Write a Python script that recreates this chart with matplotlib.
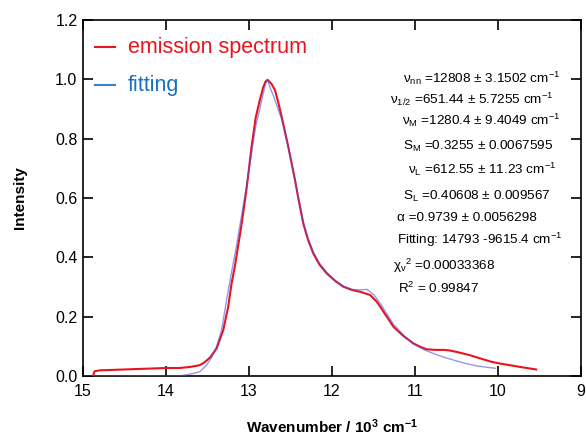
import matplotlib
matplotlib.use("Agg")
import matplotlib.pyplot as plt

plt.rcParams['font.family'] = ['Liberation Sans', 'DejaVu Sans']
plt.rcParams['mathtext.fontset'] = 'custom'
plt.rcParams['mathtext.rm'] = 'Liberation Sans'
plt.rcParams['mathtext.it'] = 'Liberation Sans:italic'
plt.rcParams['mathtext.bf'] = 'Liberation Sans:bold'
plt.rcParams['mathtext.default'] = 'regular'

# emission spectrum (x in 10^3 cm^-1)
red_x = [14.88, 14.86, 14.8, 14.6, 14.4, 14.2, 14.0, 13.83, 13.7, 13.6, 13.55, 13.47,
         13.39, 13.31, 13.25, 13.21, 13.17, 13.09, 13.03, 12.97, 12.92, 12.87, 12.83,
         12.8, 12.775, 12.73, 12.687, 12.65, 12.606, 12.527, 12.446, 12.406, 12.346,
         12.29, 12.225, 12.15, 12.064, 11.96, 11.864, 11.76, 11.663, 11.54, 11.46,
         11.42, 11.34, 11.26, 11.14, 11.02, 10.94, 10.86, 10.75, 10.65, 10.578, 10.45,
         10.337, 10.2, 10.08, 9.976, 9.85, 9.7, 9.54]
red_y = [0.0, 0.016, 0.019, 0.021, 0.023, 0.025, 0.027, 0.027, 0.031, 0.036, 0.043, 0.062,
         0.093, 0.155, 0.234, 0.312, 0.37, 0.51, 0.63, 0.77, 0.87, 0.93, 0.972,
         0.993, 0.998, 0.985, 0.964, 0.925, 0.874, 0.773, 0.661, 0.599, 0.514,
         0.46, 0.413, 0.375, 0.346, 0.32, 0.301, 0.29, 0.284, 0.273, 0.25,
         0.234, 0.2, 0.166, 0.135, 0.11, 0.099, 0.09, 0.088, 0.088, 0.086, 0.078,
         0.07, 0.058, 0.048, 0.042, 0.036, 0.029, 0.022]

# fitting
blue_x = [15.0, 13.85, 13.75, 13.65, 13.59, 13.51, 13.45, 13.39, 13.33, 13.27, 13.21,
          13.15, 13.09, 13.03, 12.97, 12.92, 12.87, 12.83, 12.8, 12.78, 12.75, 12.7,
          12.65, 12.606, 12.527, 12.446, 12.406, 12.346, 12.29, 12.225, 12.15, 12.064,
          11.96, 11.864, 11.76, 11.663, 11.58, 11.5, 11.42, 11.34, 11.26, 11.14, 11.02,
          10.9, 10.78, 10.66, 10.54, 10.4, 10.257, 10.12, 10.03]
blue_y = [0.0, 0.0, 0.004, 0.01, 0.015, 0.037, 0.062, 0.1, 0.155, 0.256, 0.35,
          0.44, 0.54, 0.64, 0.75, 0.84, 0.9, 0.95, 0.985, 1.0, 0.975, 0.94,
          0.9, 0.865, 0.773, 0.661, 0.605, 0.52, 0.465, 0.418, 0.38, 0.35,
          0.322, 0.303, 0.292, 0.29, 0.292, 0.275, 0.245, 0.21, 0.175, 0.138, 0.108,
          0.09, 0.076, 0.064, 0.054, 0.043, 0.034, 0.029, 0.026]

x_ticks = [15, 14, 13, 12, 11, 10, 9]
y_ticks = [0.0, 0.2, 0.4, 0.6, 0.8, 1.0, 1.2]

fit_lines = [
    'ν$_{nn}$ =12808 ± 3.1502 cm$^{-1}$',
    'ν$_{1/2}$ =651.44 ± 5.7255 cm$^{-1}$',
    'ν$_{M}$ =1280.4 ± 9.4049 cm$^{-1}$',
    'S$_{M}$ =0.3255 ± 0.0067595',
    'ν$_{L}$ =612.55 ± 11.23 cm$^{-1}$',
    'S$_{L}$ =0.40608 ± 0.009567',
    'α =0.9739 ± 0.0056298',
    'Fitting: 14793 -9615.4 cm$^{-1}$',
    'χ$_{v}$$^{2}$ =0.00033368',
    'R$^{2}$ = 0.99847',
]
fit_x_px = [403, 390, 402, 403, 408, 403, 397, 397, 393, 398]
fit_y_px = [78, 99, 120, 146, 169, 196, 218, 240, 266, 288]

W, H = 586, 438
fig = plt.figure(figsize=(W / 100, H / 100), dpi=100)
L, R, T, B = 83, 581, 20, 376
ax = fig.add_axes([L / W, 1 - B / H, (R - L) / W, (B - T) / H])

red_c = '#e8141e'
ax.plot(red_x, red_y, color=red_c, lw=1.5, zorder=3)
ax.plot(blue_x, blue_y, color='#5050e0', lw=1.0, alpha=0.6, zorder=4)

ax.set_xlim(15, 9)
ax.set_ylim(0, 1.2)
ax.set_xticks(x_ticks)
ax.set_xticklabels([str(v) for v in x_ticks])
ax.set_yticks(y_ticks)
ax.set_yticklabels(['%.1f' % v for v in y_ticks])
ax.tick_params(direction='in', length=7, width=1.2, top=True, right=True,
               labelsize=11.5, pad=6)
ax.tick_params(axis='y', pad=4)
for s in ax.spines.values():
    s.set_linewidth(1.2)

ax.set_xlabel('Wavenumber / 10$^{3}$ cm$^{-1}$', fontsize=11, fontweight='bold')
ax.xaxis.set_label_coords(0.5, (B - 417) / (B - T), transform=ax.transAxes)
ax.set_ylabel('Intensity', fontsize=11, fontweight='bold')
ax.yaxis.set_label_coords((27 - L) / (R - L), 0.5, transform=ax.transAxes)

def px2ax(px, py):
    return (px - L) / (R - L), (B - py) / (B - T)

# legend
x0, y0 = px2ax(95, 47)
x1, _ = px2ax(115, 47)
ax.plot([x0, x1], [y0, y0], transform=ax.transAxes, color=red_c, lw=1.5)
tx, _ = px2ax(128, 47)
ax.text(tx, y0, 'emission spectrum', transform=ax.transAxes, color=red_c,
        fontsize=15.5, va='center', ha='left')
_, yb = px2ax(95, 85)
ax.plot([x0, x1], [yb, yb], transform=ax.transAxes, color='#3a7fc8', lw=1.5)
ax.text(tx, yb, 'fitting', transform=ax.transAxes, color='#1a6fc0',
        fontsize=15.5, va='center', ha='left')

for s, px, py in zip(fit_lines, fit_x_px, fit_y_px):
    xa, ya = px2ax(px, py)
    ax.text(xa, ya, s, transform=ax.transAxes, fontsize=9.7, va='center', ha='left',
            color='black')

fig.savefig('out.png', dpi=100)
